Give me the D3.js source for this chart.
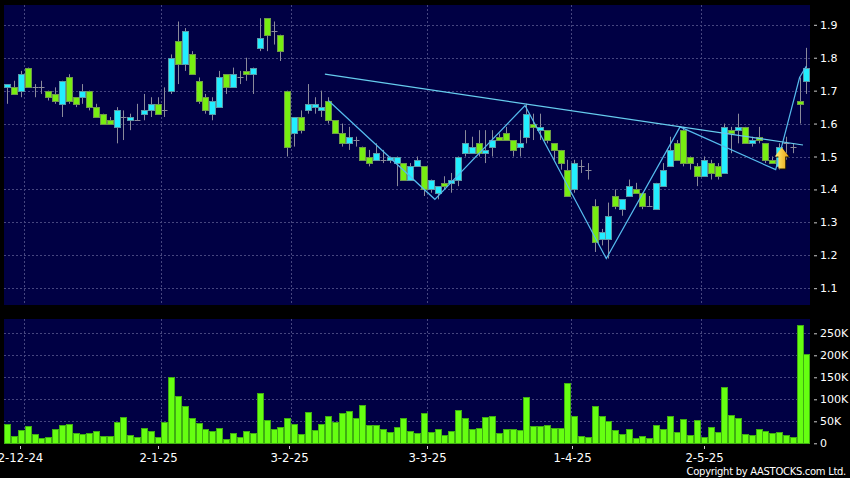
<!DOCTYPE html>
<html><head><meta charset="utf-8">
<script src="https://cdn.jsdelivr.net/npm/d3@7"></script>
<style>html,body{margin:0;padding:0;background:#000;overflow:hidden}svg{display:block}text{font-family:"DejaVu Sans",sans-serif;fill:#fff}</style>
</head><body><svg id="c" width="850" height="478"></svg>
<script>
// c = cyan candle, g = green candle, d = doji
const candleKinds = [
  "c","g","c","g","d","d","g","g","c","g",
  "g","c","g","g","g","g","c","d","c","d",
  "c","c","g","d","c","g","c","g","g","g",
  "c","c","g","c","d","g","c","c","g","d",
  "g","g","c","g","c","c","c","g","g","g",
  "c","d","g","g","c","d","c","c","g","c",
  "c","g","c","c","g","c","c","c","c","g",
  "c","c","g","g","g","c","c","g","c","g",
  "g","g","g","c","d","d","g","c","c","g",
  "c","c","g","g","d","c","c","c","g","g",
  "g","g","c","g","g","c","g","c","g","c",
  "g","g","g","c","d","d","g","c"];
const highs = [1.72,1.73,1.76,1.77,1.72,1.73,1.70,1.71,1.73,1.75,1.68,1.72,1.70,1.66,1.63,1.62,1.65,1.64,1.63,1.66,1.69,1.68,1.68,1.71,1.81,1.91,1.89,1.82,1.74,1.69,1.68,1.76,1.75,1.77,1.76,1.80,1.77,1.92,1.92,1.91,1.87,1.70,1.62,1.64,1.72,1.68,1.70,1.68,1.61,1.60,1.59,1.56,1.53,1.52,1.54,1.52,1.50,1.50,1.48,1.48,1.50,1.47,1.43,1.41,1.44,1.45,1.50,1.58,1.56,1.58,1.58,1.58,1.57,1.59,1.55,1.58,1.66,1.63,1.63,1.58,1.54,1.52,1.49,1.49,1.49,1.48,1.37,1.28,1.36,1.40,1.37,1.43,1.42,1.39,1.38,1.42,1.48,1.56,1.55,1.59,1.50,1.48,1.50,1.49,1.48,1.60,1.59,1.63,1.59,1.56,1.59,1.54,1.50,1.54,1.56,1.54,1.74,1.83];
const bodyTops = [1.72,1.71,1.75,1.77,1.71,1.71,1.70,1.69,1.73,1.74,1.68,1.70,1.70,1.65,1.63,1.61,1.64,1.62,1.62,1.61,1.64,1.66,1.66,1.64,1.80,1.85,1.88,1.81,1.73,1.68,1.67,1.74,1.75,1.75,1.74,1.76,1.77,1.86,1.92,1.88,1.87,1.70,1.62,1.62,1.66,1.66,1.65,1.67,1.61,1.57,1.56,1.55,1.53,1.50,1.51,1.49,1.50,1.50,1.48,1.47,1.49,1.47,1.43,1.41,1.42,1.43,1.50,1.54,1.53,1.54,1.52,1.55,1.56,1.57,1.55,1.54,1.63,1.60,1.59,1.58,1.54,1.52,1.46,1.48,1.47,1.46,1.35,1.27,1.32,1.38,1.37,1.41,1.40,1.39,1.35,1.42,1.46,1.52,1.54,1.58,1.50,1.47,1.49,1.48,1.47,1.59,1.58,1.59,1.59,1.55,1.56,1.54,1.49,1.53,1.54,1.53,1.67,1.77];
const bodyBottoms = [1.71,1.69,1.70,1.71,1.71,1.71,1.68,1.67,1.66,1.67,1.66,1.68,1.65,1.62,1.60,1.60,1.59,1.62,1.61,1.61,1.63,1.64,1.63,1.64,1.70,1.78,1.78,1.75,1.67,1.64,1.63,1.65,1.71,1.71,1.74,1.75,1.75,1.83,1.87,1.88,1.82,1.53,1.57,1.58,1.64,1.65,1.64,1.61,1.57,1.54,1.54,1.55,1.49,1.48,1.49,1.49,1.49,1.48,1.43,1.43,1.47,1.40,1.40,1.39,1.41,1.42,1.43,1.51,1.51,1.51,1.51,1.53,1.55,1.55,1.52,1.53,1.56,1.59,1.58,1.55,1.52,1.48,1.38,1.40,1.47,1.46,1.24,1.25,1.25,1.35,1.34,1.38,1.39,1.35,1.35,1.34,1.41,1.47,1.49,1.48,1.48,1.44,1.44,1.45,1.44,1.45,1.57,1.58,1.54,1.54,1.55,1.49,1.48,1.47,1.54,1.53,1.66,1.73];
const lows = [1.66,1.69,1.68,1.71,1.68,1.69,1.67,1.66,1.62,1.66,1.65,1.66,1.64,1.62,1.60,1.60,1.54,1.55,1.58,1.61,1.61,1.62,1.63,1.62,1.69,1.72,1.76,1.75,1.66,1.63,1.61,1.65,1.69,1.71,1.72,1.73,1.69,1.82,1.82,1.84,1.79,1.50,1.53,1.57,1.63,1.63,1.62,1.60,1.57,1.53,1.52,1.53,1.49,1.47,1.49,1.48,1.48,1.41,1.43,1.43,1.47,1.38,1.39,1.37,1.40,1.39,1.41,1.50,1.51,1.50,1.48,1.50,1.55,1.55,1.50,1.50,1.54,1.55,1.55,1.54,1.49,1.46,1.38,1.39,1.45,1.43,1.21,1.23,1.19,1.34,1.32,1.38,1.39,1.34,1.35,1.34,1.41,1.47,1.49,1.47,1.46,1.41,1.44,1.43,1.43,1.45,1.51,1.54,1.54,1.53,1.54,1.48,1.48,1.46,1.49,1.51,1.60,1.69];
const volumes = [45,17,31,39,21,12,14,33,41,45,23,21,23,28,17,16,49,59,20,14,35,27,15,49,150,107,85,58,46,32,28,34,10,23,14,27,23,114,52,33,37,58,43,21,72,31,43,61,49,69,73,58,86,41,42,33,26,38,57,27,23,68,26,33,18,29,75,57,33,35,60,61,23,32,32,30,105,39,39,41,34,35,138,62,17,14,84,62,51,30,21,33,11,16,11,41,33,63,25,55,20,52,14,36,26,128,65,57,22,18,32,28,23,26,18,14,269,203];
const priceTicks = [1.1,1.2,1.3,1.4,1.5,1.6,1.7,1.8,1.9];
const volumeTicks = [0,50,100,150,200,250];
const dateLabels = ["2-12-24","2-1-25","3-2-25","3-3-25","1-4-25","2-5-25"];
const dateTickBars = [1.9,22,41.2,61.4,82.7,102];
const dateGridBars = [2.5,22.5,41.5,61.5,82.5,101.5];
const zigzagBars = [47,62.6,75.8,87.7,98.5,112.5,116,117];
const zigzagPrices = [1.67,1.37,1.655,1.19,1.59,1.46,1.74,1.775];
const trendBars = [46.5,116.5];
const trendPrices = [1.75,1.535];
const arrowBar = 113.4;
const arrowPrice = 1.527;

const svg = d3.select("#c");
const x = d3.scaleLinear().domain([0,117]).range([7.3,806.4]);
const y = d3.scaleLinear().domain([1.1,1.9]).range([288.2,24.8]);
const v = d3.scaleLinear().domain([0,250]).range([443.3,333.3]);
const P = {l:4,r:810,t:5,b:305,vt:319,vb:443.5};
const gridCol = "#46467f";
const panel = (t,b,tickVals,sc)=>{
  svg.append("rect").attr("x",P.l).attr("y",t).attr("width",P.r-P.l).attr("height",b-t).attr("fill","#000044");
  svg.append("g").selectAll("line").data(tickVals).join("line")
    .attr("x1",P.l).attr("x2",P.r).attr("y1",d=>Math.round(sc(d))+.5).attr("y2",d=>Math.round(sc(d))+.5)
    .attr("stroke",gridCol).attr("stroke-dasharray","2,2");
  svg.append("g").selectAll("line").data(dateGridBars).join("line")
    .attr("x1",d=>Math.round(x(d))+.5).attr("x2",d=>Math.round(x(d))+.5).attr("y1",t).attr("y2",b)
    .attr("stroke",gridCol).attr("stroke-dasharray","2,2");
};
panel(P.t,P.b,priceTicks,y);
panel(P.vt,P.vb,volumeTicks.filter(d=>d>0),v);

// candles
const g = svg.append("g");
volumes.forEach((_,i)=>{
  const cx = Math.round(x(i))+.5, k = candleKinds[i];
  const top = Math.round(y(bodyTops[i]))+.5, bot = Math.round(y(bodyBottoms[i]))+.5;
  g.append("line").attr("x1",cx).attr("x2",cx).attr("y1",y(highs[i])).attr("y2",y(lows[i])).attr("stroke","#8a8a9a");
  if(k==="d"){
    g.append("line").attr("x1",cx-3).attr("x2",cx+3).attr("y1",top).attr("y2",top).attr("stroke","#8a8a9a");
  } else {
    g.append("rect").attr("x",cx-3).attr("width",6).attr("y",top).attr("height",Math.max(1,bot-top))
      .attr("fill",k==="c"?"#22eeff":"#77ee11").attr("stroke",k==="c"?"#5a9aa8":"#6f9a4a");
  }
});
// pattern lines
const line = d3.line().x(d=>x(d[0])).y(d=>y(d[1]));
svg.append("path").attr("d",line(zigzagBars.map((b,i)=>[b,zigzagPrices[i]]))).attr("fill","none").attr("stroke","#55bbee").attr("stroke-width",1.2);
svg.append("path").attr("d",line(trendBars.map((b,i)=>[b,trendPrices[i]]))).attr("fill","none").attr("stroke","#66ccee").attr("stroke-width",1.2);
// arrow marker
const ax = x(arrowBar), ay = y(arrowPrice);
const grad = svg.append("defs").append("linearGradient").attr("id","ag").attr("x1",0).attr("x2",1).attr("y1",0).attr("y2",0);
grad.append("stop").attr("offset",0).attr("stop-color","#fff27a");
grad.append("stop").attr("offset",1).attr("stop-color","#e8a010");
const arrowPath = (dx,dy)=>{const p=d3.path(),X=ax+dx,Y=ay+dy;p.moveTo(X,Y);p.lineTo(X+7,Y+9);p.lineTo(X+3.4,Y+9);p.lineTo(X+3.4,Y+21);p.lineTo(X-3.4,Y+21);p.lineTo(X-3.4,Y+9);p.lineTo(X-7,Y+9);p.closePath();return p.toString();};
svg.append("path").attr("d",arrowPath(1,1)).attr("fill","#1a1400");
svg.append("path").attr("d",arrowPath(0,0)).attr("fill","url(#ag)");

// volume bars
svg.append("g").selectAll("rect").data(volumes).join("rect")
  .attr("x",(d,i)=>Math.round(x(i))-2.5).attr("width",6)
  .attr("y",d=>Math.round(v(d))+.5).attr("height",d=>Math.max(0,Math.round(v(0))-Math.round(v(d))))
  .attr("fill","#66ff11").attr("stroke","#3fae12");

// axes labels
const priceAxis = d3.axisRight(y).tickValues(priceTicks).tickSize(3).tickFormat(d3.format(".1f"));
const volAxis = d3.axisRight(v).tickValues(volumeTicks).tickSize(3).tickFormat(d=>d===0?"0":d+"K");
[priceAxis,volAxis].forEach(a=>{
  const gg = svg.append("g").attr("transform",`translate(814,0)`).call(a);
  gg.select(".domain").remove();
  gg.selectAll("line").attr("stroke","#ccc");
  gg.selectAll("text").attr("font-size",11).attr("fill","#fff").attr("x",6).style("font-family",'"DejaVu Sans"');
});
const dg = svg.append("g");
dateLabels.forEach((s,i)=>{
  const tx = Math.round(x(dateTickBars[i]))+.5;
  dg.append("line").attr("x1",tx).attr("x2",tx).attr("y1",446).attr("y2",449).attr("stroke","#ccc");
  dg.append("text").attr("x",tx).attr("y",462).attr("text-anchor","middle").attr("font-size",11.7).text(s);
});
svg.append("text").attr("x",846).attr("y",475).attr("text-anchor","end").attr("font-size",10).attr("letter-spacing",-0.3).text("Copyright by AASTOCKS.com Ltd.");
</script></body></html>
